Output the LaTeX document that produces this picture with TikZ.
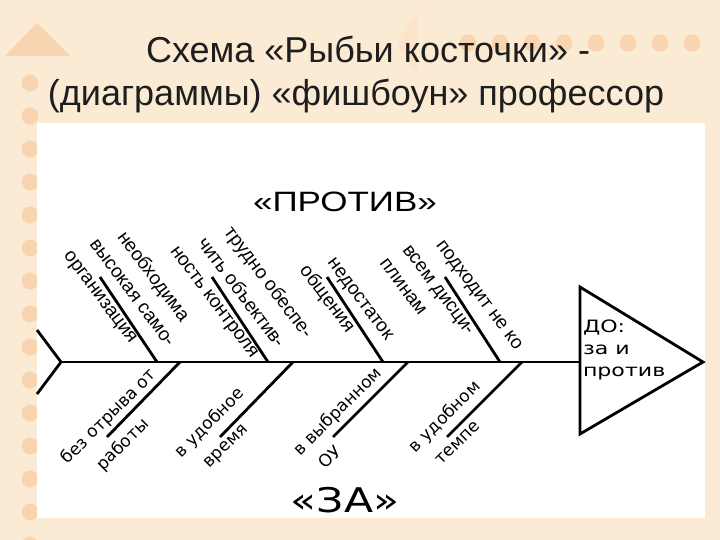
\documentclass[tikz,border=0pt]{standalone}
\usepackage{fontspec}
\setmainfont{Liberation Sans}
\newfontfamily\dejavu{DejaVu Sans}
\usetikzlibrary{positioning, calc}

\definecolor{slidebg}{HTML}{FCEBD4}
\definecolor{decor}{HTML}{F9D4B0}
\definecolor{titlecol}{HTML}{1E1E1E}

\begin{document}
\begin{tikzpicture}[x=1pt, y=-1pt,
	every node/.style={inner sep=0pt, outer sep=0pt},
	bone/.style={line width=2.8pt},
	protiv/.style={rotate=-53, font=\fontsize{19}{22}\selectfont},
	za/.style={rotate=45, font=\dejavu\fontsize{17}{20}\selectfont},
	titletext/.style={font=\fontsize{36}{43}\selectfont, text=titlecol, anchor=base}]
	% slide
	\fill[slidebg] (0,0) rectangle (720,540);
	\useasboundingbox (0,0) rectangle (720,540);
	\fill[decor] (5,56) -- (37,23) -- (70,56) -- cycle;
	\fill[decor!30!slidebg] (417,10) -- (397,44) -- (417,77) -- cycle;
	\foreach \y in {83,116,...,545} \fill[decor] (30,\y) circle (8.5pt);
	\foreach \x in {468,500,...,700} \fill[decor] (\x,43) circle (8.5pt);
	\fill[white] (37,123) rectangle (705,518);
	
	\node[titletext] (title1) at (368,63) {Схема «Рыбьи косточки» -};
	\node[titletext] (title2) at (356,106) {(диаграммы) «фишбоун» профессор};
	
	% fish
	\coordinate (tailU) at (37,330);
	\coordinate (tail) at (61,362);
	\coordinate (tailD) at (37,394);
	\coordinate (head) at (580,362);
	\coordinate (headU) at (580,287);
	\coordinate (headD) at (580,434);
	\coordinate (nose) at (703,362);
	\draw[bone] (tailU) -- (tail) -- (tailD);
	\draw[bone] (tail) -- (head);
	\draw[bone, line join=miter] (headU) -- (nose) -- (headD) -- cycle;
	
	\foreach \i/\xa/\xb in {1/157/100, 2/268/212, 3/383/327, 4/500/445} {
		\coordinate (up\i) at (\xa,362);
		\coordinate (upTip\i) at (\xb,277);
		\draw[bone] (up\i) -- (upTip\i);
	}
	\foreach \i/\xa/\xb in {1/180/107, 2/293/220, 3/408/333, 4/522/447} {
		\coordinate (down\i) at (\xa,362);
		\coordinate (downTip\i) at (\xb,437);
		\draw[bone] (down\i) -- (downTip\i);
	}
	
	\node[font=\fontsize{28}{32}\selectfont, xscale=1.25] (protiv) at (345,202) {«ПРОТИВ»};
	\node[font=\dejavu\fontsize{34}{40}\selectfont, xscale=1.25] (za) at (345,500) {«ЗА»};
	\node[font=\dejavu\fontsize{17}{22}\selectfont, align=left, anchor=north west, xscale=1.3] (goal) at (583,320) {ДО:\\за и\\против};
	
	% против
	\node[protiv] (p1a) at (153,277) {необходима};
	\node[protiv] (p1b) at (132,293) {высокая само-};
	\node[protiv] (p1c) at (99,298) {организация};
	\node[protiv] (p2a) at (268,283) {трудно обеспе-};
	\node[protiv] (p2b) at (242,292) {чить объектив-};
	\node[protiv] (p2c) at (213,303) {ность контроля};
	\node[protiv] (p3a) at (359,300) {недостаток};
	\node[protiv] (p3b) at (327,299) {общения};
	\node[protiv] (p4a) at (478,296) {подходит не ко};
	\node[protiv] (p4b) at (437,291) {всем дисци-};
	\node[protiv] (p4c) at (403,287) {плинам};
	
	% за
	\node[za] (z1a) at (109,417) {без отрыва от};
	\node[za] (z1b) at (123,445) {работы};
	\node[za] (z2a) at (210,423) {в удобное};
	\node[za] (z2b) at (227,447) {время};
	\node[za] (z3a) at (338,412) {в выбранном};
	\node[za] (z3b) at (330,457) {ОУ};
	\node[za] (z4a) at (445,417) {в удобном};
	\node[za] (z4b) at (458,443) {темпе};
\end{tikzpicture}
\end{document}
